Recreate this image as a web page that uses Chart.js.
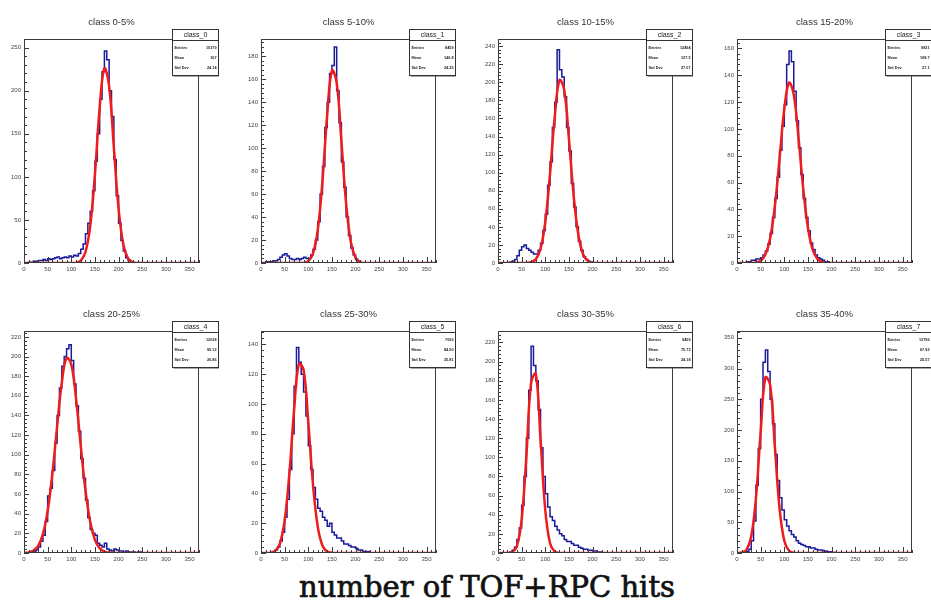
<!DOCTYPE html>
<html><head><meta charset="utf-8">
<script src="https://cdn.jsdelivr.net/npm/chart.js@4.4.0/dist/chart.umd.min.js"></script>
<style>
html,body{margin:0;padding:0;background:#fff;}
body{width:931px;height:602px;position:relative;overflow:hidden;}
canvas{position:absolute;}
#cap{position:absolute;left:0;width:974px;top:572px;text-align:center;font-family:"DejaVu Serif",serif;font-size:29px;line-height:30px;color:#111;-webkit-text-stroke:0.7px #111;}
</style></head>
<body>
<div id="cap">number of TOF+RPC hits</div>
<script>
// ---------------- data ----------------
const titles = ['class 0-5%','class 5-10%','class 10-15%','class 15-20%','class 20-25%','class 25-30%','class 30-35%','class 35-40%'];
const statNames = ['class_0','class_1','class_2','class_3','class_4','class_5','class_6','class_7'];
const statEntries = ['10379','8459','12494','9821','12038','7093','9459','13796'];
const statMeans = ['167','146.8','127.5','108.7','95.12','84.50','75.73','67.92'];
const statStdDevs = ['24.14','24.25','27.07','27.1','26.86','25.81','24.18','25.57'];
const xTicks = [0,50,100,150,200,250,300,350];
const xMax = 370;
const yMax = [260,195,248,167,226,149,232,361];
const yStep = [50,20,20,20,20,20,20,50];
const BIN = 5; // histogram bin width, counts start at x = 0

const hist0 = [0,0,1,1,2,2,3,3,4,3, 5,4,5,6,7,5,6,7,6,8, 7,9,8,11,16,22,34,46,60,84, 118,150,190,222,246,236,200,170,120,78, 46,26,14,6,3,1];
const hist1 = [0,0,1,1,1,2,2,3,5,7, 8,6,4,3,3,4,3,4,5,4, 4,7,12,20,36,60,84,118,140,165, 172,188,150,122,88,66,40,24,13,7, 3,1];
const hist2 = [0,0,0,0,0,1,2,4,8,14, 18,20,16,14,12,10,10,14,22,36, 54,86,112,150,178,236,214,206,184,150, 124,88,62,40,24,14,7,4,2,1];
const hist3 = [0,0,0,0,1,1,2,2,3,3, 4,6,9,14,22,34,48,64,84,102, 118,148,158,150,128,106,86,66,48,34, 24,15,10,6,4,3,2,1,1];
const hist4 = [0,0,0,0,1,3,6,12,18,32, 58,66,84,112,140,168,190,200,208,212, 196,172,150,124,96,76,54,36,24,20, 18,10,8,6,10,4,3,2,4,3, 2,2,1,2,1,1,1,0,1,1];
const hist5 = [0,0,0,0,0,1,2,4,8,14, 24,36,56,80,112,138,128,120,108,92, 72,56,44,36,30,28,24,22,18,20, 14,12,10,10,8,6,6,5,4,4, 3,2,2,1,1,1];
const hist6 = [0,0,0,0,0,1,3,6,14,26, 50,80,120,170,216,196,180,150,110,80, 62,48,38,34,28,24,20,18,14,12, 12,10,8,8,6,5,4,4,3,3, 2,2,1,1];
const hist7 = [0,0,0,0,2,6,20,52,110,170, 250,310,330,295,250,210,160,118,90,70, 54,44,36,30,26,20,16,14,12,10, 10,8,8,6,5,5,4,3,2,2, 1,1];

// fit curves read at x = 0,10,...,370
const fitX = [0,10,20,30,40,50,60,70,80,90,100,110,120,130,140,150,160,170,180,190,200,210,220,230,240,250,260,270,280,290,300,310,320,330,340,350,360,370];
const fit0 = [0,0,0,0,0,0,0,0,0,0, 0,0.4,2.7,12.8,42.8,103,180,226,205,134, 63,21.5,5.3,0.9,0,0,0,0,0,0, 0,0,0,0,0,0,0,0];
const fit1 = [0,0,0,0,0,0,0,0,0,0, 1.7,8.3,28.7,71.6,129,167.5,157,106,51.7,18.1, 4.6,0.8,0,0,0,0,0,0,0,0, 0,0,0,0,0,0,0,0];
const fit2 = [0,0,0,0,0,0,0.1,0.8,4.2,15.8, 45.4,98.6,162,202.5,191.5,137,74.7,30.8,9.6,2.3, 0.4,0,0,0,0,0,0,0,0,0, 0,0,0,0,0,0,0,0];
const fit3 = [0,0,0,0,0.4,1.7,6.3,18.3,42.3,78, 114.7,134.4,125.5,93.5,55.5,26.3,9.9,3,0.7,0.1, 0,0,0,0,0,0,0,0,0,0, 0,0,0,0,0,0,0,0];
const fit4 = [0.15,0.6,2.4,7.3,19.2,42.8,80.7,128.7,173.7,198.5, 192,157.2,108.9,63.9,31.7,13.3,4.75,1.4,0.4,0.1, 0,0,0,0,0,0,0,0,0,0, 0,0,0,0,0,0,0,0];
const fit5 = [0,0,0.2,1.4,6.5,21.8,53.4,96,126.8,123, 87.6,45.8,17.6,4.9,1,0.15,0,0,0,0, 0,0,0,0,0,0,0,0,0,0, 0,0,0,0,0,0,0,0];
const fit6 = [0,0,0,0.9,7.1,34.8,101.3,177.9,187.2,118.3, 44.9,10.2,1.4,0.1,0,0,0,0,0,0, 0,0,0,0,0,0,0,0,0,0, 0,0,0,0,0,0,0,0];
const fit7 = [0,0.7,5.2,26.7,89,196.4,285.3,273.7,173.4,72.3, 19.8,3.6,0.4,0,0,0,0,0,0,0, 0,0,0,0,0,0,0,0,0,0, 0,0,0,0,0,0,0,0];

const hists = [hist0,hist1,hist2,hist3,hist4,hist5,hist6,hist7];
const fits = [fit0,fit1,fit2,fit3,fit4,fit5,fit6,fit7];

// ---------------- layout ----------------
const colLeft = [24, 261, 498, 737];
const rowTop = [39, 331];
const rowH = [224, 222];
const FRAME_W = 175, AXIS_W = 24, AXIS_H = 14, PAD_TOP = 40, PAD_RIGHT = 20;

function histPoints(counts){
  const pts = counts.map((c,i)=>({x:i*BIN, y:c}));
  pts.push({x:counts.length*BIN, y:0});
  pts.push({x:xMax, y:0});
  return pts;
}
function fitPoints(vals){ return vals.map((v,i)=>({x:fitX[i], y:v})); }

const rootPlugin = {
  id:'rootPlugin',
  afterDraw(chart){
    const o = chart.options.plugins.rootPlugin;
    const {ctx, chartArea:a, scales:{x,y}} = chart;
    ctx.save();
    ctx.strokeStyle = '#3c3c3c'; ctx.lineWidth = 1;
    ctx.beginPath();
    for (let v = 0; v <= xMax; v += 10){
      const px = Math.round(x.getPixelForValue(v)) + 0.5;
      const len = (v % 50 === 0) ? 6 : 3;
      ctx.moveTo(px, a.bottom); ctx.lineTo(px, a.bottom - len);
    }
    const minor = o.yStep / 5;
    for (let k = 0; k * minor <= o.yMax; k++){
      const v = k * minor;
      const py = Math.round(y.getPixelForValue(v)) + 0.5;
      const len = (k % 5 === 0) ? 5 : 3;
      ctx.moveTo(a.left, py); ctx.lineTo(a.left + len, py);
    }
    ctx.stroke();
    const L = Math.round(a.left)+0.5, T = Math.round(a.top)+0.5;
    const W = Math.round(a.right - a.left) - 1, H = Math.round(a.bottom - a.top) - 1;
    ctx.strokeRect(L, T, W, H);
    // title
    ctx.fillStyle = '#333';
    ctx.font = '9.5px "Liberation Sans", Arial, sans-serif';
    ctx.textAlign = 'center'; ctx.textBaseline = 'middle';
    ctx.fillText(o.title, (a.left + a.right)/2, a.top - 17);
    // stats box
    const bx = Math.round(a.right) - 27 + 0.5, by = Math.round(a.top) - 10 + 0.5, bw = 46, bh = 46;
    ctx.fillStyle = '#555';
    ctx.fillRect(bx + 1, by + 1, bw, bh);
    ctx.fillStyle = '#fff';
    ctx.fillRect(bx, by, bw, bh);
    ctx.strokeStyle = '#333';
    ctx.strokeRect(bx, by, bw, bh);
    ctx.beginPath(); ctx.moveTo(bx, by + 11); ctx.lineTo(bx + bw, by + 11); ctx.stroke();
    ctx.fillStyle = '#222';
    ctx.font = '7px "Liberation Sans", Arial, sans-serif';
    ctx.fillText(o.name, bx + bw/2, by + 6);
    ctx.font = 'bold 3.8px "Liberation Sans", Arial, sans-serif';
    const rows = [['Entries', o.entries], ['Mean', o.mean], ['Std Dev', o.std]];
    rows.forEach((r, i) => {
      const ty = by + 18 + i * 10;
      ctx.textAlign = 'left'; ctx.fillText(r[0], bx + 2, ty);
      ctx.textAlign = 'right'; ctx.fillText(r[1], bx + bw - 2, ty);
    });
    ctx.restore();
  }
};

for (let p = 0; p < 8; p++){
  const col = p % 4, row = Math.floor(p / 4);
  const cv = document.createElement('canvas');
  const cw = AXIS_W + FRAME_W + PAD_RIGHT;
  const ch = PAD_TOP + rowH[row] + AXIS_H;
  cv.width = cw; cv.height = ch;
  cv.style.left = (colLeft[col] - AXIS_W) + 'px';
  cv.style.top = (rowTop[row] - PAD_TOP) + 'px';
  cv.style.width = cw + 'px'; cv.style.height = ch + 'px';
  document.body.appendChild(cv);
  new Chart(cv, {
    type:'line',
    data:{ datasets:[
      { data: fitPoints(fits[p]), borderColor:'#f01c1c', borderWidth:2.5, pointRadius:0, tension:0.4, fill:false, order:0 },
      { data: histPoints(hists[p]), borderColor:'#1a1a9c', borderWidth:1.5, pointRadius:0, stepped:'before', fill:false, order:1 }
    ]},
    options:{
      responsive:false, animation:false, devicePixelRatio:1,
      layout:{ padding:{ top:PAD_TOP, right:PAD_RIGHT, left:0, bottom:0 } },
      plugins:{ legend:{display:false}, tooltip:{enabled:false},
        rootPlugin:{ title:titles[p], name:statNames[p], entries:statEntries[p], mean:statMeans[p], std:statStdDevs[p], yMax:yMax[p], yStep:yStep[p] } },
      scales:{
        x:{ type:'linear', min:0, max:xMax,
            afterFit(s){ s.height = AXIS_H; },
            afterBuildTicks(s){ s.ticks = xTicks.map(v=>({value:v})); },
            grid:{display:false, drawTicks:false}, border:{display:false},
            ticks:{ padding:3, color:'#444', font:{family:'"Liberation Sans", Arial, sans-serif', size:6}, maxRotation:0, autoSkip:false } },
        y:{ type:'linear', min:0, max:yMax[p],
            afterFit(s){ s.width = AXIS_W; },
            grid:{display:false, drawTicks:false}, border:{display:false},
            ticks:{ stepSize:yStep[p], includeBounds:false, padding:3, color:'#444', font:{family:'"Liberation Sans", Arial, sans-serif', size:6}, autoSkip:false } }
      }
    },
    plugins:[rootPlugin]
  });
}
</script>
</body></html>
